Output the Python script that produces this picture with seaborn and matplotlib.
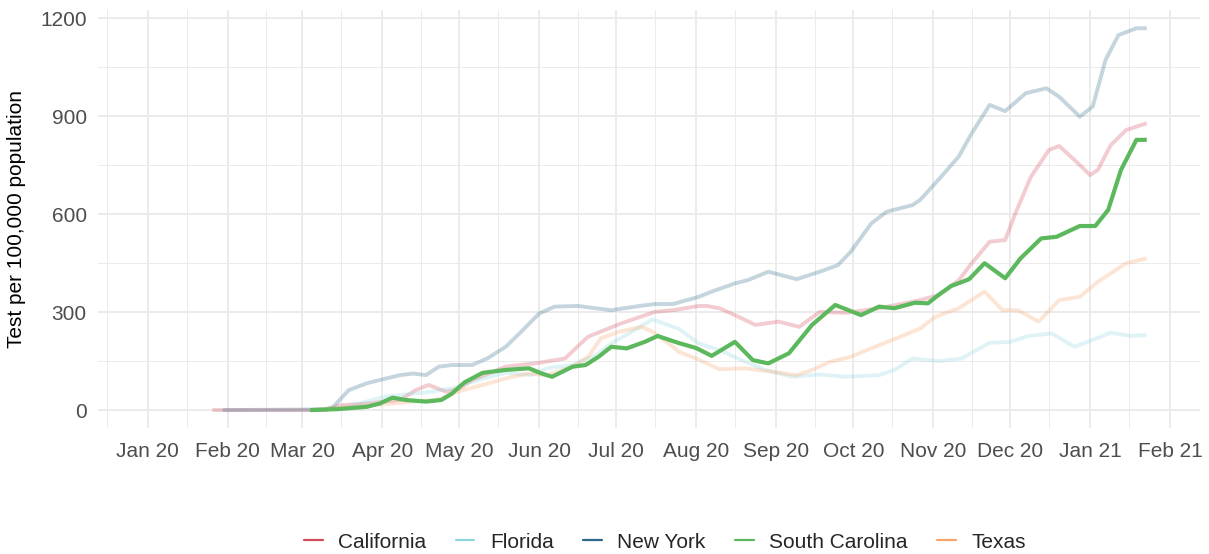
import matplotlib
matplotlib.use("Agg")
import matplotlib.pyplot as plt
import matplotlib.dates as mdates
from matplotlib.lines import Line2D
import pandas as pd
import seaborn as sns

# values (tests per 100,000 population)
ca_dates = ["2020-01-26", "2020-03-10", "2020-03-16", "2020-03-26", "2020-04-08", "2020-04-14",
            "2020-04-19", "2020-04-26", "2020-05-01", "2020-05-06", "2020-05-19", "2020-06-01",
            "2020-06-11", "2020-06-20", "2020-07-03", "2020-07-16", "2020-07-23", "2020-08-02",
            "2020-08-05", "2020-08-10", "2020-08-16", "2020-08-24", "2020-09-02", "2020-09-10",
            "2020-09-18", "2020-09-28", "2020-10-11", "2020-10-24", "2020-10-27", "2020-11-03",
            "2020-11-11", "2020-11-16", "2020-11-23", "2020-11-29", "2020-12-03", "2020-12-09",
            "2020-12-16", "2020-12-20", "2020-12-26", "2021-01-01", "2021-01-04", "2021-01-09",
            "2021-01-15", "2021-01-23"]
ca_values = [0, 0, 15, 20, 31, 61, 77, 56, 66, 92, 133, 145, 158, 225, 266, 301, 306, 319,
             319, 312, 291, 261, 271, 255, 301, 298, 312, 332, 337, 352, 398, 450, 516, 521,
             603, 715, 797, 809, 766, 720, 736, 812, 858, 879]

fl_dates = ["2020-03-04", "2020-03-16", "2020-04-02", "2020-04-20", "2020-04-28", "2020-05-06",
            "2020-05-19", "2020-05-29", "2020-06-04", "2020-06-14", "2020-06-23", "2020-06-29",
            "2020-07-07", "2020-07-15", "2020-07-23", "2020-07-25", "2020-08-02", "2020-08-10",
            "2020-08-20", "2020-08-28", "2020-09-07", "2020-09-18", "2020-09-28", "2020-10-11",
            "2020-10-17", "2020-10-24", "2020-11-03", "2020-11-12", "2020-11-23", "2020-12-01",
            "2020-12-08", "2020-12-17", "2020-12-26", "2021-01-02", "2021-01-09", "2021-01-17",
            "2021-01-23"]
fl_values = [0, 5, 41, 56, 66, 87, 114, 107, 128, 138, 169, 204, 240, 278, 255, 250, 204, 184,
             148, 123, 102, 109, 102, 107, 123, 158, 150, 158, 206, 209, 227, 235, 194, 215,
             237, 227, 230]

ny_dates = ["2020-01-30", "2020-03-10", "2020-03-13", "2020-03-19", "2020-03-26", "2020-04-01",
            "2020-04-08", "2020-04-13", "2020-04-18", "2020-04-23", "2020-04-28", "2020-05-06",
            "2020-05-12", "2020-05-19", "2020-05-25", "2020-06-01", "2020-06-07", "2020-06-16",
            "2020-06-29", "2020-07-10", "2020-07-16", "2020-07-23", "2020-08-02", "2020-08-07",
            "2020-08-16", "2020-08-21", "2020-08-29", "2020-09-09", "2020-09-18", "2020-09-25",
            "2020-09-30", "2020-10-08", "2020-10-14", "2020-10-24", "2020-10-27", "2020-11-03",
            "2020-11-11", "2020-11-16", "2020-11-23", "2020-11-29", "2020-12-07", "2020-12-15",
            "2020-12-20", "2020-12-28", "2021-01-02", "2021-01-07", "2021-01-12", "2021-01-19",
            "2021-01-23"]
ny_values = [0, 2, 10, 61, 82, 94, 107, 112, 107, 133, 138, 138, 159, 194, 240, 296, 317, 319,
             306, 319, 325, 325, 347, 363, 388, 398, 424, 401, 424, 444, 485, 572, 608, 628,
             644, 705, 777, 848, 935, 916, 971, 986, 960, 899, 930, 1073, 1149, 1170, 1170]

sc_dates = ["2020-03-04", "2020-03-15", "2020-03-26", "2020-03-31", "2020-04-05", "2020-04-10",
            "2020-04-18", "2020-04-24", "2020-04-28", "2020-05-03", "2020-05-10", "2020-05-19",
            "2020-05-28", "2020-06-02", "2020-06-06", "2020-06-14", "2020-06-19", "2020-06-24",
            "2020-06-29", "2020-07-05", "2020-07-12", "2020-07-17", "2020-07-25", "2020-08-01",
            "2020-08-07", "2020-08-16", "2020-08-23", "2020-08-29", "2020-09-06", "2020-09-15",
            "2020-09-24", "2020-10-04", "2020-10-11", "2020-10-17", "2020-10-25", "2020-10-30",
            "2020-11-03", "2020-11-08", "2020-11-15", "2020-11-21", "2020-11-29", "2020-12-05",
            "2020-12-13", "2020-12-19", "2020-12-28", "2021-01-03", "2021-01-08", "2021-01-13",
            "2021-01-19", "2021-01-23"]
sc_values = [0, 3, 10, 20, 38, 31, 26, 31, 50, 85, 114, 123, 128, 112, 102, 133, 138, 163, 194,
             189, 209, 227, 206, 190, 166, 209, 153, 143, 174, 261, 322, 291, 317, 312, 329,
             327, 352, 380, 401, 450, 404, 465, 526, 531, 564, 564, 613, 736, 828, 828]

tx_dates = ["2020-03-04", "2020-04-08", "2020-04-23", "2020-05-01", "2020-05-10", "2020-05-19",
            "2020-05-28", "2020-06-04", "2020-06-14", "2020-06-20", "2020-06-25", "2020-07-02",
            "2020-07-11", "2020-07-15", "2020-07-23", "2020-07-25", "2020-08-01", "2020-08-10",
            "2020-08-20", "2020-08-31", "2020-09-09", "2020-09-15", "2020-09-22", "2020-09-30",
            "2020-10-11", "2020-10-21", "2020-10-27", "2020-11-02", "2020-11-11", "2020-11-21",
            "2020-11-28", "2020-12-04", "2020-12-12", "2020-12-20", "2020-12-28", "2021-01-04",
            "2021-01-15", "2021-01-23"]
tx_values = [0, 22, 33, 58, 77, 97, 112, 107, 133, 163, 220, 240, 255, 240, 194, 179, 158, 125,
             128, 117, 107, 123, 148, 163, 199, 230, 250, 286, 312, 363, 306, 306, 271, 337,
             347, 393, 450, 465]

states = ["California", "Florida", "New York", "South Carolina", "Texas"]
colors = ["#d1495b", "#8fd6e1", "#2e6889", "#5cb85c", "#f9a46c"]
highlight = "South Carolina"

frames = []
for name, d, v in [("California", ca_dates, ca_values), ("Florida", fl_dates, fl_values),
                   ("New York", ny_dates, ny_values), ("South Carolina", sc_dates, sc_values),
                   ("Texas", tx_dates, tx_values)]:
    frames.append(pd.DataFrame({"date": pd.to_datetime(d), "tests": v, "state": name}))
df = pd.concat(frames, ignore_index=True)
palette = dict(zip(states, colors))

sns.set_theme(style="whitegrid")
plt.rcParams["font.family"] = ["Liberation Sans", "DejaVu Sans"]

fig = plt.figure(figsize=(12.09, 5.54), dpi=100)
ax = fig.add_axes([0.081, 0.2274, 0.9116, 0.7546])

faded = df[df["state"] != highlight]
sns.lineplot(data=faded, x="date", y="tests", hue="state", palette=palette,
             alpha=0.28, linewidth=2.8, ax=ax, legend=False, estimator=None, sort=True,
             solid_joinstyle="round", solid_capstyle="butt")
sns.lineplot(data=df[df["state"] == highlight], x="date", y="tests", color=palette[highlight],
             linewidth=3.0, ax=ax, legend=False, estimator=None, sort=True,
             solid_joinstyle="round", solid_capstyle="butt")

ax.set_xlim(pd.Timestamp("2019-12-12 14:00"), pd.Timestamp("2021-02-12 17:00"))
ax.set_ylim(-55, 1226)
ax.set_yticks([0, 300, 600, 900, 1200])
ax.set_yticks([150, 450, 750, 1050], minor=True)
ax.xaxis.set_major_locator(mdates.MonthLocator())
ax.xaxis.set_minor_locator(mdates.MonthLocator(bymonthday=16))
ax.xaxis.set_major_formatter(mdates.DateFormatter("%b %y"))

ax.grid(which="major", color="#ebebeb", linewidth=1.4)
ax.grid(which="minor", color="#ebebeb", linewidth=0.7)
ax.set_axisbelow(True)
for s in ax.spines.values():
    s.set_visible(False)
ax.tick_params(which="both", length=0, labelsize=15, colors="#4d4d4d")
ax.tick_params(axis="x", pad=10)
ax.tick_params(axis="y", pad=8)
ax.set_xlabel("")
ax.set_ylabel("Test per 100,000 population", fontsize=15, color="black", labelpad=10)

handles = [Line2D([0], [0], color=palette[s], linewidth=1.6) for s in states]
fig.legend(handles, states, loc="center", bbox_to_anchor=(0.55, 1 - 542 / 554), ncol=5,
           frameon=False, fontsize=15, handlelength=0.9, handletextpad=0.75,
           columnspacing=1.4)

fig.savefig("out.png", dpi=100)
